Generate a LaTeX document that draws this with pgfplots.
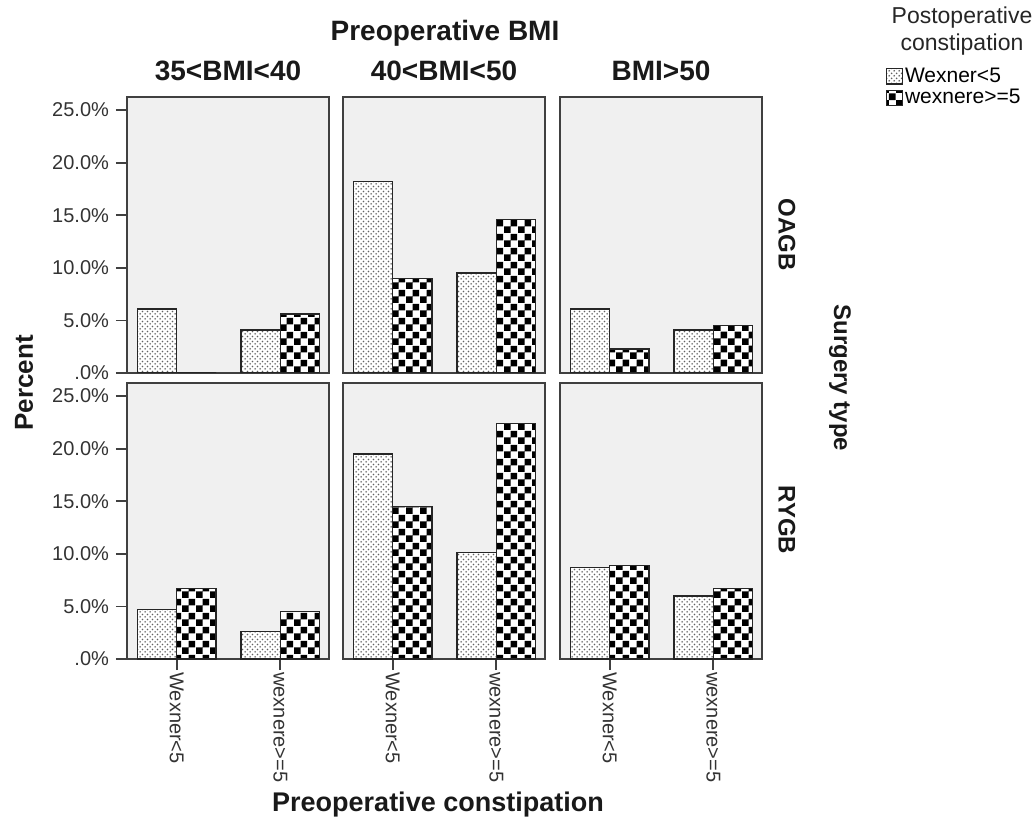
\documentclass[border=0pt]{standalone}
\usepackage{fontspec}
\setmainfont{Liberation Sans}
\usepackage{pgfplots}
\usepackage{pgfplotstable}
\pgfplotsset{compat=1.18}
\usetikzlibrary{patterns}

% fill patterns of the two series
\pgfdeclarepatternformonly{bigchecker}{\pgfpointorigin}{\pgfqpoint{7pt}{7pt}}{\pgfqpoint{7pt}{7pt}}{%
  \pgfpathrectangle{\pgfpointorigin}{\pgfqpoint{3.5pt}{3.5pt}}%
  \pgfpathrectangle{\pgfqpoint{3.5pt}{3.5pt}}{\pgfqpoint{3.5pt}{3.5pt}}%
  \pgfusepath{fill}}
\pgfdeclarepatternformonly{finedots}{\pgfpointorigin}{\pgfqpoint{2.4pt}{2.4pt}}{\pgfqpoint{2.4pt}{2.4pt}}{%
  \pgfpathcircle{\pgfqpoint{0.6pt}{0.6pt}}{0.45pt}%
  \pgfpathcircle{\pgfqpoint{1.8pt}{1.8pt}}{0.45pt}%
  \pgfusepath{fill}}

% percent per panel: x = preoperative constipation group,
% low = Wexner<5, high = wexnere>=5 (postoperative)
\pgfplotstableread{
x low high
0 6.1 0.0
1 4.1 5.6
}\oagbA
\pgfplotstableread{
x low high
0 18.2 9.0
1 9.5 14.6
}\oagbB
\pgfplotstableread{
x low high
0 6.1 2.3
1 4.1 4.5
}\oagbC
\pgfplotstableread{
x low high
0 4.7 6.7
1 2.6 4.5
}\rygbA
\pgfplotstableread{
x low high
0 19.5 14.5
1 10.1 22.4
}\rygbB
\pgfplotstableread{
x low high
0 8.7 8.9
1 6.0 6.7
}\rygbC

\pgfplotsset{
  panel/.style={
    scale only axis, width=101pt, height=138pt,
    xmin=-0.48, xmax=1.47, ymin=0, ymax=26.24,
    ybar=0pt, bar width=0.38,
    axis background/.style={fill=black!6},
    axis line style={draw=black!75, line width=1pt},
    tick style={draw=black!75, line width=0.9pt},
    tick align=outside, major tick length=5.5pt,
    xtick=\empty, ytick=\empty,
    ticklabel style={font=\fontsize{10}{12}\selectfont, text=black!80},
  },
  leftcol/.style={ytick={0,5,10,15,20,25},
    yticklabels={.0\%,5.0\%,10.0\%,15.0\%,20.0\%,25.0\%}, ytick pos=left},
  bottomrow/.style={xtick={0,1}, xticklabels={Wexner<5,wexnere>=5},
    xtick pos=bottom, xticklabel style={rotate=-90, anchor=west, inner sep=1pt}},
  lowbar/.style={draw=black!85, line width=0.7pt, fill=white,
    postaction={pattern=finedots, pattern color=black!62},
    legend image code/.code={\draw[##1] (0pt,-3.8pt) rectangle (8pt,3.8pt);}},
  highbar/.style={draw=black!85, line width=0.7pt, fill=white,
    postaction={pattern=bigchecker, pattern color=black},
    legend image code/.code={\draw[##1] (0pt,-3.8pt) rectangle (8pt,3.8pt);}},
}

\begin{document}
\begin{tikzpicture}
\path[use as bounding box] (0,0) rectangle (517.5pt,410.5pt);

% top row: OAGB
\begin{axis}[panel, leftcol, at={(63.5pt,224pt)}, anchor=south west]
\addplot[lowbar] table[x=x,y=low] {\oagbA};
\addplot[highbar] table[x=x,y=high] {\oagbA};
\end{axis}
\begin{axis}[panel, at={(171.5pt,224pt)}, anchor=south west]
\addplot[lowbar] table[x=x,y=low] {\oagbB};
\addplot[highbar] table[x=x,y=high] {\oagbB};
\end{axis}
\begin{axis}[panel, at={(280pt,224pt)}, anchor=south west,
    legend style={at={(rel axis cs:1.61,1.115)}, anchor=north west,
      draw=none, fill=none, inner sep=0pt, row sep=0pt,
      nodes={inner sep=1pt}, font=\fontsize{10.5}{12}\selectfont},
    legend cell align=left]
\addplot[lowbar] table[x=x,y=low] {\oagbC};
\addplot[highbar] table[x=x,y=high] {\oagbC};
\legend{Wexner<5,wexnere>=5}
\end{axis}

% bottom row: RYGB
\begin{axis}[panel, leftcol, bottomrow, at={(63.5pt,81pt)}, anchor=south west]
\addplot[lowbar] table[x=x,y=low] {\rygbA};
\addplot[highbar] table[x=x,y=high] {\rygbA};
\end{axis}
\begin{axis}[panel, bottomrow, at={(171.5pt,81pt)}, anchor=south west]
\addplot[lowbar] table[x=x,y=low] {\rygbB};
\addplot[highbar] table[x=x,y=high] {\rygbB};
\end{axis}
\begin{axis}[panel, bottomrow, at={(280pt,81pt)}, anchor=south west]
\addplot[lowbar] table[x=x,y=low] {\rygbC};
\addplot[highbar] table[x=x,y=high] {\rygbC};
\end{axis}

% titles and labels
\node[font=\bfseries\fontsize{14}{16}\selectfont, text=black!90] at (222.5pt,394pt) {Preoperative BMI};
\node[font=\bfseries\fontsize{14}{16}\selectfont, text=black!90] at (114pt,375pt) {35<BMI<40};
\node[font=\bfseries\fontsize{14}{16}\selectfont, text=black!90] at (222pt,375pt) {40<BMI<50};
\node[font=\bfseries\fontsize{14}{16}\selectfont, text=black!90] at (330.5pt,375pt) {BMI>50};
\node[font=\bfseries\fontsize{13}{15}\selectfont, text=black!90, rotate=90] at (12pt,219pt) {Percent};
\node[font=\bfseries\fontsize{12}{14}\selectfont, text=black!90, rotate=-90] at (393.5pt,293pt) {OAGB};
\node[font=\bfseries\fontsize{12}{14}\selectfont, text=black!90, rotate=-90] at (393.5pt,150.5pt) {RYGB};
\node[font=\bfseries\fontsize{12}{14}\selectfont, text=black!90, rotate=-90] at (420pt,221.5pt) {Surgery type};
\node[font=\bfseries\fontsize{13.5}{15}\selectfont, text=black!90] at (219pt,8pt) {Preoperative constipation};
\node[align=center, font=\fontsize{11.5}{13.5}\selectfont, text=black!85] at (481pt,395pt) {Postoperative\\constipation};
\end{tikzpicture}
\end{document}
